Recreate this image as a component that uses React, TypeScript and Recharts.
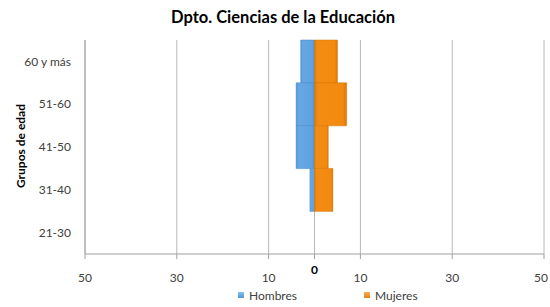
import React from 'react';
import { BarChart, Bar, XAxis, YAxis, CartesianGrid } from 'recharts';

const categories = ['60 y más', '51-60', '41-50', '31-40', '21-30'];
const hombres = [3, 4, 4, 1, 0];
const mujeres = [5, 7, 3, 4, 0];
const xTicks = [-50, -30, -10, 0, 10, 30, 50];

const data = categories.map((c, i) => ({ grupo: c, Hombres: -hombres[i], Mujeres: mujeres[i] }));

const FONT = 'Lato, "Open Sans", sans-serif';

const XTick = (props: any) => {
  const { x, y, payload } = props;
  const v = payload.value;
  const isZero = v === 0;
  return (
    <text
      x={v === 50 ? x - 3 : x}
      y={isZero ? y + 13 : y + 21}
      textAnchor="middle"
      fill={isZero ? '#000' : '#404040'}
      fontWeight={isZero ? 700 : 400}
      fontSize={12}
      fontFamily={FONT}
    >
      {Math.abs(v)}
    </text>
  );
};

export default function App() {
  return (
    <div style={{ position: 'absolute', left: 0, top: 0, width: 550, height: 307, background: '#fff' }}>
      <div
        style={{
          position: 'absolute',
          top: 7,
          left: 0,
          width: 566,
          textAlign: 'center',
          fontFamily: FONT,
          fontWeight: 700,
          fontSize: 16.5,
          color: '#000',
        }}
      >
        Dpto. Ciencias de la Educación
      </div>
      <div
        style={{
          position: 'absolute',
          left: 20,
          top: 146,
          transform: 'translate(-50%, -50%) rotate(-90deg)',
          whiteSpace: 'nowrap',
          fontFamily: FONT,
          fontWeight: 700,
          fontSize: 12,
          color: '#000',
        }}
      >
        Grupos de edad
      </div>
      <div style={{ position: 'absolute', left: 0, top: 289, width: 550, height: 16, fontFamily: FONT, fontSize: 12, color: '#404040' }}>
        <div style={{ position: 'absolute', left: 238, top: 3, width: 6, height: 6, background: 'linear-gradient(#8cc0ee,#4f94d6)' }} />
        <div style={{ position: 'absolute', left: 249, top: -1 }}>Hombres</div>
        <div style={{ position: 'absolute', left: 364, top: 3, width: 6, height: 6, background: 'linear-gradient(#f7b060,#e37f0d)' }} />
        <div style={{ position: 'absolute', left: 375, top: -1 }}>Mujeres</div>
      </div>
      <div style={{ position: 'absolute', left: 0, top: 0 }}>
        <BarChart
          width={550}
          height={307}
          data={data}
          layout="vertical"
          stackOffset="sign"
          barCategoryGap={0}
          margin={{ top: 40, right: 6, bottom: 23, left: 25 }}
        >
          <defs>
            <linearGradient id="gBlue" x1="0" y1="0" x2="1" y2="0">
              <stop offset="0" stopColor="#4f93d4" />
              <stop offset="0.15" stopColor="#66a8e4" />
              <stop offset="0.85" stopColor="#5fa2e0" />
              <stop offset="1" stopColor="#4f90cc" />
            </linearGradient>
            <linearGradient id="gOrange" x1="0" y1="0" x2="1" y2="0">
              <stop offset="0" stopColor="#e07a08" />
              <stop offset="0.12" stopColor="#f38c12" />
              <stop offset="0.88" stopColor="#f28a10" />
              <stop offset="1" stopColor="#d9770a" />
            </linearGradient>
          </defs>
          <CartesianGrid horizontal={false} stroke="#b8b8b8" />
          <XAxis
            type="number"
            domain={[-50, 50]}
            ticks={xTicks}
            interval={0}
            tick={<XTick />}
            tickLine={{ stroke: '#a0a0a0' }}
            tickSize={5}
            axisLine={{ stroke: '#a0a0a0' }}
          />
          <YAxis
            type="category"
            dataKey="grupo"
            width={60}
            axisLine={{ stroke: '#a0a0a0' }}
            tickLine={false}
            tickMargin={8}
            tick={{ fontSize: 12, fill: '#404040', fontFamily: FONT }}
          />
          <Bar dataKey="Hombres" stackId="a" fill="url(#gBlue)" stroke="#4a8acb" strokeWidth={0.5} isAnimationActive={false} />
          <Bar dataKey="Mujeres" stackId="a" fill="url(#gOrange)" stroke="#d47508" strokeWidth={0.5} isAnimationActive={false} />
        </BarChart>
      </div>
    </div>
  );
}
